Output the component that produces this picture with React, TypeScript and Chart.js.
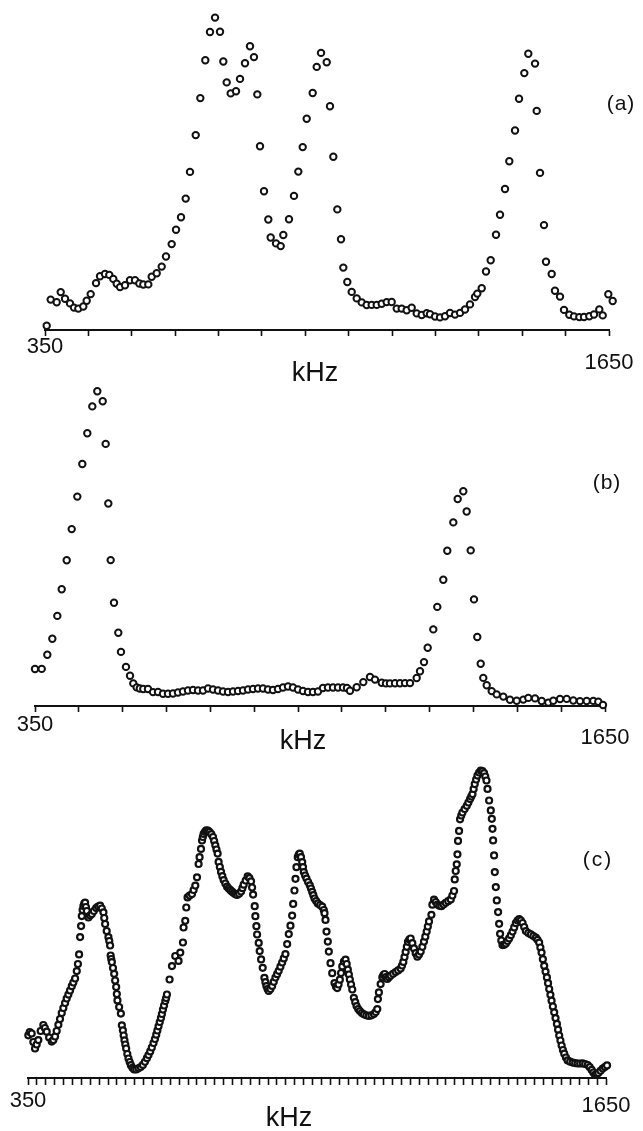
import { useEffect, useRef } from 'react';
import { Chart, registerables } from 'chart.js';

Chart.register(...registerables);

const FREQ_MIN = 350;
const FREQ_MAX = 1650;
const UNIT = 'kHz';
const PANEL_NAMES = ['(a)', '(b)', '(c)'];
const FONT = '"Liberation Sans", Arial, Helvetica, sans-serif';

// [frequency kHz, signal (arb. units)]
const spectrumA: [number, number][] = [
  [353.9, 4.3], [363.1, 30.4], [377.0, 27.8], [386.2, 37.9], [396.1, 31.2], [407.6, 26.6], [416.8, 22.4], [426.8, 21.4], [438.3, 23.5], [446.1, 29.2],
  [455.3, 35.9], [467.6, 46.9], [476.8, 53.7], [488.3, 56.0], [498.2, 55.1], [507.4, 51.1], [515.3, 46.2], [522.9, 42.9], [534.4, 44.7], [545.9, 49.8],
  [557.5, 49.8], [567.4, 46.5], [576.6, 45.5], [588.1, 45.6], [595.9, 53.3], [607.5, 56.7], [619.0, 63.4], [628.9, 73.5], [642.0, 85.9], [652.0, 100.3],
  [663.5, 112.7], [674.3, 131.4], [684.2, 158.1], [697.4, 194.9], [708.0, 231.9], [719.5, 269.7], [730.3, 298.0], [741.9, 312.4], [753.4, 298.2], [761.0, 268.5],
  [768.8, 247.6], [778.0, 236.6], [790.3, 238.7], [799.5, 251.1], [811.0, 266.8], [822.5, 283.8], [831.7, 272.9], [839.4, 235.6], [845.6, 183.7], [854.8, 138.7],
  [864.7, 110.5], [870.2, 92.5], [882.5, 86.6], [893.3, 83.9], [899.3, 95.0], [912.4, 110.7], [923.9, 134.1], [933.9, 158.4], [944.0, 182.9], [953.2, 211.2],
  [967.0, 237.0], [976.3, 263.1], [986.2, 277.1], [999.3, 267.8], [1006.9, 223.8], [1014.6, 173.3], [1023.8, 120.6], [1032.3, 90.7], [1037.6, 62.4], [1046.8, 48.0],
  [1056.9, 38.1], [1068.5, 31.6], [1080.0, 27.6], [1091.5, 25.0], [1103.0, 25.1], [1114.6, 25.1], [1126.1, 26.2], [1137.6, 27.9], [1149.1, 28.0], [1160.7, 21.4],
  [1172.2, 21.4], [1183.7, 19.8], [1195.2, 22.2], [1206.8, 16.6], [1218.3, 15.0], [1229.8, 16.7], [1237.4, 15.8], [1249.0, 13.5], [1260.5, 12.6], [1272.0, 13.7],
  [1283.5, 17.0], [1295.1, 15.4], [1306.6, 17.1], [1318.1, 20.5], [1329.6, 25.6], [1341.2, 33.0], [1346.5, 36.4], [1356.6, 41.7], [1366.5, 58.5], [1377.3, 69.8],
  [1389.6, 95.3], [1398.8, 115.3], [1410.3, 141.0], [1420.2, 168.8], [1433.4, 199.5], [1442.6, 231.2], [1454.8, 256.9], [1464.0, 276.3], [1479.5, 266.4], [1483.4, 219.1],
  [1491.0, 157.1], [1500.2, 104.9], [1504.8, 68.2], [1517.9, 56.0], [1525.5, 39.3], [1537.1, 33.4], [1546.3, 20.1], [1558.5, 15.2], [1569.3, 13.6], [1581.6, 12.9],
  [1592.4, 13.0], [1604.6, 13.7], [1615.4, 15.5], [1627.6, 20.6], [1635.5, 14.6], [1648.4, 35.7], [1658.5, 29.0],
];

const spectrumB: [number, number][] = [
  [350.0, 37.0], [365.3, 37.1], [378.1, 51.2], [389.5, 67.3], [400.9, 90.1], [410.9, 116.7], [422.3, 145.8], [433.7, 176.9], [446.5, 209.4], [457.9, 242.0],
  [469.3, 272.8], [480.7, 299.6], [492.1, 314.7], [504.4, 304.8], [511.2, 262.1], [517.2, 202.5], [522.6, 145.9], [530.2, 103.2], [540.0, 73.3], [546.1, 54.1],
  [557.5, 39.1], [566.7, 30.2], [574.2, 22.6], [581.9, 18.6], [589.0, 17.5], [597.0, 17.0], [607.7, 17.0], [619.1, 13.9], [630.5, 14.0], [641.9, 12.3],
  [653.3, 12.3], [664.7, 12.5], [676.1, 13.5], [687.5, 14.5], [698.9, 15.5], [710.4, 16.0], [721.8, 15.5], [733.2, 15.5], [744.6, 17.5], [756.0, 16.5],
  [767.4, 15.5], [778.8, 14.5], [790.2, 14.0], [801.6, 14.5], [813.0, 15.0], [824.4, 15.5], [835.8, 16.5], [847.2, 17.0], [858.6, 17.5], [870.0, 17.5],
  [881.4, 16.5], [892.8, 16.0], [904.2, 17.0], [915.6, 18.5], [927.0, 19.5], [938.4, 18.5], [949.8, 16.5], [961.2, 15.0], [972.6, 14.0], [984.0, 14.0],
  [995.4, 14.5], [1006.8, 18.0], [1018.2, 18.5], [1029.7, 18.5], [1041.1, 18.5], [1052.5, 18.5], [1061.6, 18.0], [1068.4, 15.3], [1083.7, 18.8], [1098.8, 23.9],
  [1114.0, 29.0], [1125.4, 26.4], [1140.7, 23.2], [1150.5, 22.6], [1159.6, 22.6], [1171.1, 22.7], [1182.5, 22.8], [1193.9, 22.9], [1205.3, 22.9], [1220.5, 28.0],
  [1228.1, 34.8], [1237.2, 43.9], [1245.6, 58.2], [1258.4, 76.6], [1267.5, 99.1], [1281.2, 126.2], [1290.3, 155.2], [1304.0, 183.6], [1314.0, 207.0], [1326.8, 214.8],
  [1334.5, 194.5], [1343.7, 155.6], [1351.2, 106.6], [1358.7, 69.0], [1366.5, 42.3], [1372.4, 28.1], [1380.2, 20.8], [1391.6, 14.9], [1403.0, 11.6], [1418.1, 9.4],
  [1433.3, 6.2], [1448.6, 5.3], [1463.7, 6.4], [1475.1, 8.1], [1490.4, 7.6], [1505.6, 5.0], [1520.7, 3.4], [1532.1, 5.2], [1547.4, 7.0], [1562.6, 7.1],
  [1577.7, 5.5], [1593.0, 4.9], [1608.2, 5.0], [1623.3, 5.1], [1634.7, 4.2], [1645.4, 1.0],
];

const spectrumC: [number, number][] = [
  [350.7, 42.7], [354.0, 46.0], [358.3, 44.5], [362.0, 36.0], [365.8, 29.5], [369.5, 33.5], [373.2, 37.9], [378.5, 47.0], [384.5, 53.0], [388.0, 50.0],
  [392.1, 46.3], [397.5, 40.5], [403.4, 36.4], [407.0, 38.0], [410.8, 41.5], [414.5, 47.0], [418.3, 53.2], [422.0, 59.0], [425.9, 65.0], [429.5, 70.0],
  [433.4, 75.0], [437.0, 79.5], [440.8, 83.4], [444.5, 87.5], [448.5, 91.8], [452.0, 95.5], [455.9, 99.5], [459.7, 106.9], [462.3, 114.0], [464.9, 123.6],
  [467.2, 140.9], [469.4, 151.9], [471.0, 161.9], [472.8, 168.0], [474.6, 172.0], [476.5, 174.5], [478.4, 175.4], [480.3, 171.0], [482.3, 167.0], [485.9, 160.5],
  [489.5, 162.5], [493.5, 163.9], [498.0, 167.0], [503.2, 169.9], [507.5, 171.5], [512.2, 172.3], [516.0, 169.5], [519.7, 165.7], [521.5, 160.0], [523.5, 154.0],
  [527.0, 147.0], [530.9, 140.8], [532.8, 137.0], [534.7, 132.5], [535.9, 122.5], [537.2, 119.0], [538.6, 115.9], [541.2, 110.0], [543.8, 104.2], [546.0, 97.5],
  [548.3, 91.0], [549.8, 84.0], [551.2, 77.6], [555.0, 71.0], [558.9, 64.4], [561.1, 52.7], [563.4, 47.7], [565.2, 42.5], [567.0, 37.7], [568.9, 33.5],
  [570.8, 29.5], [573.4, 24.0], [576.0, 19.5], [578.7, 16.0], [581.4, 12.8], [585.0, 10.2], [588.8, 8.6], [593.5, 8.5], [598.5, 9.7], [603.5, 11.0],
  [608.4, 13.1], [613.0, 16.2], [617.4, 19.8], [621.0, 23.0], [624.9, 26.6], [628.5, 30.5], [632.3, 35.0], [635.5, 39.0], [638.4, 43.3], [641.0, 47.5],
  [643.6, 51.7], [646.3, 56.0], [649.0, 60.1], [651.2, 64.0], [653.5, 68.4], [656.0, 72.5], [658.7, 76.9], [660.6, 80.0], [662.5, 83.5], [668.4, 98.5],
  [673.8, 111.9], [681.2, 122.0], [688.6, 117.1], [692.5, 125.4], [698.5, 135.5], [699.9, 150.5], [703.7, 157.2], [706.0, 170.5], [708.9, 180.6], [713.5, 182.5],
  [718.8, 183.9], [722.5, 188.0], [726.3, 192.4], [730.1, 200.7], [733.7, 214.0], [735.9, 220.8], [739.1, 229.1], [741.4, 237.5], [743.2, 241.0], [745.0, 244.1],
  [748.0, 246.2], [751.0, 247.6], [754.8, 247.3], [758.5, 246.0], [762.3, 243.8], [766.1, 241.0], [768.7, 237.0], [771.3, 232.7], [773.9, 228.5], [776.5, 224.4],
  [778.7, 216.1], [781.5, 211.0], [784.2, 206.1], [787.1, 201.8], [790.0, 197.9], [793.8, 194.5], [797.7, 191.3], [801.5, 189.5], [805.2, 187.8], [808.9, 186.3],
  [812.6, 185.0], [816.4, 183.8], [820.2, 183.1], [824.7, 184.3], [829.2, 186.5], [832.2, 189.8], [835.1, 193.3], [839.6, 197.5], [844.1, 201.6], [848.0, 199.8],
  [851.7, 196.7], [854.0, 190.5], [856.3, 183.4], [859.9, 171.8], [861.4, 161.8], [863.7, 151.8], [865.3, 143.5], [868.9, 135.1], [871.1, 126.9], [874.3, 118.6],
  [877.9, 110.2], [881.7, 100.2], [884.0, 95.8], [886.2, 91.9], [888.8, 89.0], [891.4, 87.0], [895.2, 89.0], [899.1, 92.1], [902.8, 96.2], [906.5, 100.4],
  [910.2, 103.8], [913.9, 107.2], [917.7, 111.3], [921.6, 115.5], [925.3, 119.6], [929.0, 123.9], [932.9, 133.9], [936.5, 143.9], [940.3, 152.3], [944.1, 162.4],
  [946.4, 174.1], [949.3, 187.5], [951.6, 199.2], [953.8, 210.8], [956.7, 220.8], [959.0, 223.5], [961.2, 224.3], [964.0, 220.8], [966.7, 215.9], [968.5, 210.9],
  [970.3, 205.9], [973.3, 202.5], [976.3, 199.4], [980.0, 196.0], [983.8, 192.7], [986.5, 189.5], [989.2, 186.1], [991.8, 182.8], [994.4, 179.5], [998.1, 177.0],
  [1001.8, 174.6], [1006.8, 173.0], [1011.7, 171.3], [1015.3, 168.0], [1016.9, 164.8], [1019.1, 158.1], [1021.4, 146.4], [1024.3, 136.4], [1026.6, 126.4], [1030.4, 114.8],
  [1034.2, 104.8], [1039.4, 94.9], [1042.5, 91.5], [1045.5, 89.9], [1048.5, 93.5], [1051.4, 98.3], [1054.1, 105.0], [1056.8, 111.6], [1060.5, 116.5], [1064.2, 118.4],
  [1066.8, 114.0], [1069.4, 108.4], [1071.7, 103.5], [1073.9, 98.5], [1076.6, 93.5], [1079.3, 88.5], [1082.9, 80.2], [1086.0, 75.8], [1089.0, 71.9], [1092.7, 69.0],
  [1096.4, 66.9], [1100.9, 65.0], [1105.4, 63.7], [1111.0, 62.7], [1116.7, 62.1], [1122.4, 62.7], [1128.0, 63.9], [1132.0, 66.0], [1135.6, 68.9], [1137.0, 78.9],
  [1139.2, 85.6], [1143.1, 93.9], [1146.9, 100.7], [1149.5, 103.0], [1152.1, 104.0], [1155.2, 101.0], [1158.2, 99.1], [1161.9, 100.8], [1165.6, 102.5], [1171.2, 104.2],
  [1176.9, 105.9], [1182.5, 107.6], [1188.1, 109.4], [1191.2, 112.5], [1194.2, 116.1], [1196.8, 121.0], [1199.4, 126.1], [1202.0, 131.2], [1204.6, 136.2], [1207.6, 138.5],
  [1210.6, 139.5], [1214.4, 134.8], [1218.1, 129.6], [1221.9, 124.8], [1225.7, 121.3], [1229.5, 123.5], [1233.2, 126.4], [1236.9, 131.2], [1240.6, 136.4], [1243.6, 141.3],
  [1246.7, 146.5], [1249.3, 151.5], [1251.9, 156.6], [1257.3, 163.2], [1259.5, 173.3], [1263.2, 178.3], [1267.0, 176.0], [1270.8, 173.4], [1275.3, 172.2], [1279.8, 171.8],
  [1284.6, 173.4], [1289.5, 175.2], [1295.1, 176.8], [1300.8, 178.6], [1304.5, 182.5], [1308.2, 187.0], [1309.8, 198.6], [1312.0, 207.0], [1314.3, 213.7], [1315.9, 223.7],
  [1317.2, 237.1], [1319.5, 247.1], [1321.7, 258.7], [1324.4, 262.5], [1327.1, 265.5], [1332.0, 269.0], [1336.8, 272.2], [1340.5, 275.5], [1344.2, 278.9], [1347.0, 281.5],
  [1349.7, 283.9], [1352.3, 289.0], [1354.8, 293.9], [1357.9, 298.5], [1360.9, 302.4], [1364.6, 305.5], [1368.4, 307.4], [1372.1, 306.8], [1375.8, 304.8], [1378.5, 301.5],
  [1381.2, 297.5], [1383.5, 289.1], [1387.1, 277.5], [1390.9, 267.6], [1393.2, 259.2], [1394.7, 249.2], [1396.1, 237.6], [1398.3, 222.6], [1399.9, 205.9], [1402.2, 190.9],
  [1404.4, 177.6], [1407.3, 165.9], [1409.6, 154.2], [1411.8, 144.2], [1414.5, 137.5], [1417.2, 132.9], [1421.0, 133.2], [1424.7, 134.5], [1428.4, 137.0], [1432.1, 139.6],
  [1436.0, 142.8], [1439.8, 146.4], [1443.5, 150.6], [1447.2, 154.8], [1451.0, 157.5], [1454.7, 158.9], [1458.5, 157.5], [1462.3, 155.0], [1466.0, 151.0], [1469.7, 146.9],
  [1475.3, 145.0], [1481.0, 143.6], [1486.7, 142.0], [1492.3, 140.3], [1496.0, 138.2], [1499.7, 135.4], [1502.4, 130.5], [1505.1, 125.4], [1508.0, 118.8], [1511.0, 112.2],
  [1514.0, 106.4], [1517.1, 100.6], [1519.7, 94.8], [1522.3, 89.0], [1525.0, 83.2], [1527.6, 77.3], [1530.5, 71.5], [1533.5, 65.7], [1536.5, 59.9], [1539.6, 54.1],
  [1542.2, 48.3], [1544.8, 42.5], [1547.5, 37.5], [1550.2, 32.5], [1553.1, 28.0], [1556.1, 24.3], [1559.9, 20.5], [1563.7, 17.6], [1569.3, 16.3], [1575.0, 15.4],
  [1580.6, 14.9], [1586.2, 14.5], [1591.8, 14.5], [1597.5, 14.6], [1603.1, 14.0], [1608.8, 13.0], [1613.3, 10.8], [1617.8, 8.1], [1621.5, 5.5], [1625.2, 3.2],
  [1628.9, 3.8], [1632.7, 5.0], [1637.6, 7.2], [1642.6, 9.4], [1647.4, 11.0], [1652.3, 12.6], [1657.6, 14.0], [1662.9, 15.1],
];

type PanelProps = {
  data: [number, number][];
  top: number;
  height: number;
  padTop: number;
  padLeft: number;
  padRight: number;
  axisHeight: number;
  yMax: number;
  step: number;
  tickLength: number;
  tickPad: number;
  lastLineHeight: number;
  radius: number;
  border: number;
};

function Panel(p: PanelProps) {
  const ref = useRef<HTMLCanvasElement | null>(null);
  useEffect(() => {
    if (!ref.current) return;
    const chart = new Chart(ref.current, {
      type: 'scatter',
      data: {
        datasets: [
          {
            data: p.data.map(([x, y]) => ({ x, y })),
            pointStyle: 'circle',
            pointRadius: p.radius,
            pointBorderWidth: p.border,
            pointBackgroundColor: '#ffffff',
            pointBorderColor: '#111111',
            showLine: false,
            clip: false as any,
          },
        ],
      },
      options: {
        responsive: false,
        maintainAspectRatio: false,
        animation: false,
        events: [],
        layout: { padding: { top: p.padTop, left: p.padLeft, right: p.padRight, bottom: 0 } },
        plugins: { legend: { display: false }, tooltip: { enabled: false }, title: { display: false } },
        scales: {
          x: {
            type: 'linear',
            position: 'bottom',
            min: FREQ_MIN,
            max: FREQ_MAX,
            afterFit: (scale: any) => {
              scale.height = p.axisHeight;
            },
            border: { display: true, color: '#111111', width: 2 },
            grid: {
              display: true,
              drawOnChartArea: false,
              drawTicks: true,
              tickLength: p.tickLength,
              tickWidth: 1.6,
              tickColor: '#111111',
              color: '#111111',
            },
            ticks: {
              stepSize: p.step,
              autoSkip: false,
              maxRotation: 0,
              minRotation: 0,
              padding: p.tickPad,
              color: '#111111',
              font: (ctx: any) => {
                const v = ctx && ctx.tick ? Math.round(ctx.tick.value) : 0;
                return { family: FONT, size: 22, lineHeight: v === FREQ_MAX ? p.lastLineHeight : 1 };
              },
              callback: (value: any) => {
                const v = Math.round(Number(value));
                if (v === FREQ_MIN) return String(FREQ_MIN);
                if (v === FREQ_MAX) return ['', String(FREQ_MAX)];
                return '';
              },
            },
          },
          y: { type: 'linear', display: false, min: 0, max: p.yMax },
        },
      },
    });
    return () => chart.destroy();
  }, []);
  return (
    <canvas
      ref={ref}
      width={643}
      height={p.height}
      style={{ position: 'absolute', left: 0, top: p.top, width: 643, height: p.height, display: 'block' }}
    />
  );
}

function Label({ x, y, text, size, spacing = 0 }: { x: number; y: number; text: string; size: number; spacing?: number }) {
  return (
    <div
      style={{
        position: 'absolute',
        left: x,
        top: y,
        transform: 'translate(-50%, -50%)',
        fontFamily: FONT,
        fontSize: size,
        lineHeight: 1,
        letterSpacing: spacing,
        whiteSpace: 'nowrap',
        color: '#111111',
      }}
    >
      {text}
    </div>
  );
}

export default function App() {
  return (
    <div style={{ position: 'absolute', left: 0, top: 0, width: 643, height: 1131, background: '#ffffff', overflow: 'hidden' }}>
      <Panel data={spectrumA} top={0} height={400} padTop={10} padLeft={45} padRight={34} axisHeight={70} yMax={320}
        step={100} tickLength={6} tickPad={0} lastLineHeight={0.818} radius={3.2} border={2} />
      <Panel data={spectrumB} top={370} height={400} padTop={6} padLeft={35} padRight={38} axisHeight={64} yMax={330}
        step={100} tickLength={6} tickPad={2} lastLineHeight={0.727} radius={3.2} border={2} />
      <Panel data={spectrumC} top={750} height={381} padTop={8} padLeft={28} padRight={37} axisHeight={53} yMax={320}
        step={20} tickLength={7} tickPad={5} lastLineHeight={0.485} radius={3.0} border={2.2} />
      <Label x={315} y={372} text={UNIT} size={27} />
      <Label x={303} y={740} text={UNIT} size={27} />
      <Label x={289} y={1117} text={UNIT} size={27} />
      <Label x={621} y={102} text={PANEL_NAMES[0]} size={21} spacing={1} />
      <Label x={607} y={481} text={PANEL_NAMES[1]} size={21} spacing={1} />
      <Label x={598} y={858} text={PANEL_NAMES[2]} size={21} spacing={2} />
    </div>
  );
}
